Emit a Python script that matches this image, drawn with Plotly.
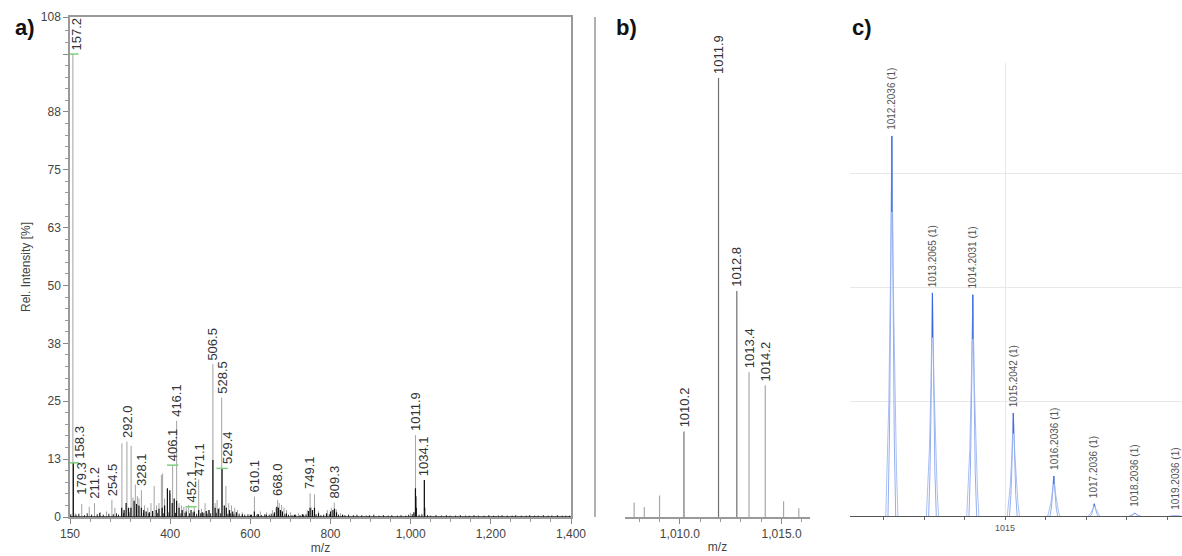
import plotly.graph_objects as go

W, H = 1182, 556

# ---------------- Panel a data ----------------
a_grey_mz = [157.2, 163, 179.3, 198, 211.2, 226, 241, 254.5, 262, 279.5, 292.0, 302.5, 307, 313, 318, 322,
             328.1, 336, 344, 352, 360, 366, 372, 378, 381, 386, 400, 406.1, 416.1, 422, 428, 434, 440, 446,
             460, 471.1, 478, 487, 495, 506.5, 512, 517, 523, 528.5, 539, 546, 553, 561, 568, 580, 610.1,
             625, 640, 655, 664, 668.0, 672, 678, 684, 690, 700, 720, 742, 749.1, 752, 760, 770, 792, 802,
             809.3, 815, 825, 1000, 1011.9, 1034.1]
a_grey_h = [100, 0.8, 2.8, 2.2, 3.0, 1.0, 1.2, 3.7, 2.0, 15.9, 16.3, 15.4, 4.2, 7.0, 4.5, 4.0,
            5.8, 2.5, 2.0, 3.0, 6.7, 2.5, 3.0, 9.1, 9.4, 4.0, 5.0, 11.2, 20.8, 3.0, 2.5, 2.2, 2.0, 2.6,
            2.0, 8.1, 1.8, 3.0, 1.5, 33.0, 3.0, 3.7, 2.0, 25.8, 6.7, 3.0, 2.5, 2.0, 1.5, 1.0, 4.4,
            1.2, 1.0, 1.5, 2.0, 3.7, 3.0, 2.6, 2.0, 1.5, 1.0, 0.8, 1.5, 5.1, 2.0, 4.9, 1.2, 1.5, 2.0,
            3.1, 1.6, 0.8, 0.9, 17.7, 8.0]

a_black_mz = [158.3, 279, 285, 290, 296, 302, 310, 316, 322, 328, 334, 340, 348, 356, 365, 372, 380, 386,
              393, 399, 405, 410, 416, 422, 430, 440, 452, 460, 471, 480, 490, 497, 506.5, 512, 520, 529.4,
              535, 540, 548, 556, 565, 580, 600, 610, 620, 640, 660, 666, 670, 675, 680, 690, 710, 730,
              745, 749, 755, 760, 770, 790, 800, 806, 810, 815, 830, 1008, 1011.9, 1013, 1014, 1034.1, 1035]
a_black_h = [11.7, 2.0, 1.5, 3.0, 2.0, 2.0, 3.5, 2.8, 2.5, 2.0, 1.5, 1.2, 1.0, 1.3, 1.5, 1.8, 2.0, 2.5,
             6.2, 5.8, 3.0, 4.0, 3.5, 2.0, 1.5, 1.2, 1.5, 1.2, 1.5, 1.0, 1.3, 1.5, 12.3, 2.0, 1.8, 10.5,
             2.5, 2.0, 1.5, 1.2, 1.0, 0.6, 0.5, 1.2, 0.6, 0.5, 1.0, 2.2, 2.0, 1.5, 1.2, 0.8, 0.5, 0.6,
             1.3, 2.0, 1.5, 2.0, 0.8, 0.8, 1.2, 1.5, 1.8, 1.0, 0.5, 1.0, 6.2, 4.5, 2.0, 8.0, 2.0]

a_noise_mz = [152, 165, 172, 186, 193, 204, 218, 224, 233, 247, 258, 266, 271, 284, 297, 333, 347, 356, 369,
              384, 397, 413, 427, 437, 448, 457, 466, 476, 484, 492, 501, 515, 526, 544, 551, 559, 572, 586,
              594, 603, 617, 628, 636, 647, 652, 659, 686, 695, 704, 713, 724, 733, 739, 764, 776, 783, 797,
              820, 836, 845, 857, 866, 878, 889, 897, 908, 921, 932, 944, 953, 967, 976, 988, 995, 1004,
              1021, 1028, 1042, 1050, 1063, 1077, 1089, 1098, 1112, 1124, 1137, 1146, 1158, 1169, 1183,
              1195, 1207, 1219, 1228, 1241, 1253, 1262, 1276, 1288, 1297, 1309, 1318, 1331, 1343, 1352,
              1366, 1378, 1387, 1396]
a_noise_h = [0.6, 0.5, 0.7, 0.4, 0.8, 0.5, 0.6, 0.9, 0.5, 0.7, 0.6, 0.8, 0.5, 0.9, 1.0, 0.9, 0.8, 0.7, 0.9,
             0.8, 1.0, 0.9, 0.8, 0.9, 0.8, 1.0, 0.7, 0.8, 0.9, 0.7, 0.8, 0.9, 0.8, 0.7, 0.8, 0.6, 0.7, 0.5,
             0.6, 0.5, 0.6, 0.4, 0.6, 0.5, 0.7, 0.6, 0.6, 0.5, 0.4, 0.5, 0.4, 0.5, 0.6, 0.6, 0.4, 0.5, 0.6,
             0.5, 0.4, 0.5, 0.4, 0.5, 0.4, 0.3, 0.4, 0.5, 0.3, 0.4, 0.3, 0.4, 0.3, 0.4, 0.3, 0.5, 0.6,
             0.5, 0.6, 0.4, 0.3, 0.4, 0.3, 0.4, 0.3, 0.3, 0.4, 0.3, 0.3, 0.4, 0.3, 0.3,
             0.4, 0.3, 0.3, 0.4, 0.3, 0.3, 0.4, 0.3, 0.3, 0.4, 0.3, 0.3, 0.4, 0.3, 0.3,
             0.4, 0.3, 0.3, 0.3]

a_label_text = ["157.2", "158.3", "179.3", "211.2", "254.5", "292.0", "328.1", "406.1", "416.1", "452.1",
                "471.1", "506.5", "528.5", "529.4", "610.1", "668.0", "749.1", "809.3", "1011.9", "1034.1"]
a_label_mz = [157.2, 158.3, 179.3, 211.2, 254.5, 292.0, 328.1, 406.1, 416.1, 452.1,
              471.1, 506.5, 528.5, 529.4, 610.1, 668.0, 749.1, 809.3, 1011.9, 1034.1]
a_label_h = [100, 11.7, 4.0, 3.0, 3.7, 16.3, 5.8, 11.2, 20.8, 2.2,
             8.1, 33.0, 25.8, 10.5, 4.4, 3.7, 5.1, 3.1, 17.7, 8.0]
a_label_shift = [4, 6, 0, 0, 0, 0, 0, 0, 0, 0, 0, 0, 0, 6, 0, 0, 0, 0, 0, 0]

a_centroid_mz = [157.2, 158.3, 406.1, 452.1, 529.4]
a_centroid_h = [100, 11.7, 11.2, 2.2, 10.5]

a_xtick_vals = [150, 400, 600, 800, 1000, 1200, 1400]
a_xtick_text = ["150", "400", "600", "800", "1,000", "1,200", "1,400"]
a_xminor = [200, 250, 300, 350, 450, 500, 550, 650, 700, 750, 850, 900, 950, 1050, 1100, 1150,
            1250, 1300, 1350]
a_ytick_vals = [0, 12.5, 25, 37.5, 50, 62.5, 75, 87.5, 100, 108]
a_ytick_text = ["0", "13", "25", "38", "50", "63", "75", "88", "", "108"]
a_yminor = [2.5, 5, 7.5, 10, 15, 17.5, 20, 22.5, 27.5, 30, 32.5, 35, 40, 42.5, 45, 47.5, 52.5, 55, 57.5,
            60, 65, 67.5, 70, 72.5, 77.5, 80, 82.5, 85, 90, 92.5, 95, 97.5, 102.5, 105]

# ---------------- Panel b data ----------------
b_main_mz = [1010.2, 1011.9, 1012.8]
b_main_h = [19.5, 100, 51.5]
b_light_mz = [1007.75, 1008.25, 1009.0, 1013.4, 1014.2, 1015.1, 1015.85]
b_light_h = [3.3, 2.3, 4.9, 33.0, 30.0, 3.6, 2.0]
b_label_text = ["1010.2", "1011.9", "1012.8", "1013.4", "1014.2"]
b_label_mz = [1010.2, 1011.9, 1012.8, 1013.4, 1014.2]
b_label_h = [19.5, 100, 51.5, 33.0, 30.0]
b_xtick_vals = [1010, 1015]
b_xtick_text = ["1,010.0", "1,015.0"]
b_xminor = [1008, 1009, 1011, 1012, 1013, 1014, 1016]

# ---------------- Panel c data ----------------
c_centers = [1012.2036, 1013.2065, 1014.2031, 1015.2042, 1016.2036, 1017.2036, 1018.2036, 1019.2036]
c_heights = [100, 58.7, 58.2, 27.1, 10.5, 3.2, 0.8, 0.15]
c_labels = ["1012.2036 (1)", "1013.2065 (1)", "1014.2031 (1)", "1015.2042 (1)",
            "1016.2036 (1)", "1017.2036 (1)", "1018.2036 (1)", "1019.2036 (1)"]
# peak profiles (offset in m/z, fraction of peak height)
c_outer_off = [-0.15, -0.115, -0.075, -0.037, 0, 0.037, 0.075, 0.115, 0.15]
c_outer_rel = [0, 0.12, 0.3, 0.6, 1, 0.6, 0.3, 0.12, 0]
c_inner_off = [-0.095, -0.06, -0.03, -0.012, 0, 0.012, 0.03, 0.06, 0.095]
c_inner_rel = [0, 0.2, 0.55, 0.85, 1, 0.85, 0.55, 0.2, 0]
c_xtick_vals = [1015]
c_xtick_text = ["1015"]
c_xminor = [1012, 1013, 1014, 1016, 1017, 1018, 1019]


def sticks(xs, hs):
    X, Y = [], []
    for x, h in zip(xs, hs):
        X += [x, x, None]
        Y += [0, h, None]
    return X, Y


def profiles(centers, heights, offs, rels):
    X, Y = [], []
    for c, h in zip(centers, heights):
        for o, r in zip(offs, rels):
            X.append(c + o)
            Y.append(h * r)
        X.append(None)
        Y.append(None)
    return X, Y


FONT = "Liberation Sans, Arial, sans-serif"
fig = go.Figure()

# panel a
x, y = sticks(a_grey_mz, a_grey_h)
fig.add_trace(go.Scatter(x=x, y=y, mode="lines", line=dict(color="#a3a3a3", width=1),
                         xaxis="x", yaxis="y", hoverinfo="skip"))
x, y = sticks(a_noise_mz, a_noise_h)
fig.add_trace(go.Scatter(x=x, y=y, mode="lines", line=dict(color="#222222", width=1),
                         xaxis="x", yaxis="y", hoverinfo="skip"))
x, y = sticks(a_black_mz, a_black_h)
fig.add_trace(go.Scatter(x=x, y=y, mode="lines", line=dict(color="#111111", width=1.2),
                         xaxis="x", yaxis="y", hoverinfo="skip"))
fig.add_trace(go.Scatter(x=a_centroid_mz, y=a_centroid_h, mode="markers",
                         marker=dict(symbol="line-ew", size=8, line=dict(color="#7ad07a", width=1.5)),
                         xaxis="x", yaxis="y", hoverinfo="skip"))

# panel b
x, y = sticks(b_light_mz, b_light_h)
fig.add_trace(go.Scatter(x=x, y=y, mode="lines", line=dict(color="#a8a8a8", width=1.2),
                         xaxis="x2", yaxis="y2", hoverinfo="skip"))
x, y = sticks(b_main_mz, b_main_h)
fig.add_trace(go.Scatter(x=x, y=y, mode="lines", line=dict(color="#707070", width=1.2),
                         xaxis="x2", yaxis="y2", hoverinfo="skip"))

# panel c
x, y = profiles(c_centers, c_heights, c_outer_off, c_outer_rel)
fig.add_trace(go.Scatter(x=x, y=y, mode="lines", line=dict(color="#aac0f3", width=1),
                         xaxis="x3", yaxis="y3", hoverinfo="skip"))
x, y = profiles(c_centers, c_heights, c_inner_off, c_inner_rel)
fig.add_trace(go.Scatter(x=x, y=y, mode="lines", line=dict(color="#94aef0", width=1),
                         xaxis="x3", yaxis="y3", hoverinfo="skip"))
cx, cy = [], []
for c, h in zip(c_centers, c_heights):
    cx += [c, c, None]
    cy += [h * 0.8, h, None]
fig.add_trace(go.Scatter(x=cx, y=cy, mode="lines", line=dict(color="#3a66d8", width=1.1),
                         xaxis="x3", yaxis="y3", hoverinfo="skip"))

annotations = []
for t, m, h, s in zip(a_label_text, a_label_mz, a_label_h, a_label_shift):
    annotations.append(dict(x=m, y=h, xref="x", yref="y", text=t, textangle=-90, showarrow=False,
                            xanchor="center", yanchor="bottom", yshift=2, xshift=s,
                            font=dict(family=FONT, size=13, color="#333333")))
for t, m, h in zip(b_label_text, b_label_mz, b_label_h):
    annotations.append(dict(x=m, y=h, xref="x2", yref="y2", text=t, textangle=-90, showarrow=False,
                            xanchor="center", yanchor="bottom", yshift=2,
                            font=dict(family=FONT, size=13, color="#333333")))
for t, m, h in zip(c_labels, c_centers, c_heights):
    annotations.append(dict(x=m, y=h, xref="x3", yref="y3", text=t, textangle=-90, showarrow=False,
                            xanchor="center", yanchor="bottom", yshift=4,
                            font=dict(family=FONT, size=10, color="#555555")))
for t, px, py in [("a)", 25, 27), ("b)", 626, 27), ("c)", 862, 27)]:
    annotations.append(dict(x=px / W, y=1 - py / H, xref="paper", yref="paper", text="<b>%s</b>" % t,
                            showarrow=False, xanchor="center", yanchor="middle",
                            font=dict(family=FONT, size=22, color="#111111")))

tickfont = dict(family=FONT, size=12, color="#444444")

fig.update_layout(
    width=W, height=H, margin=dict(l=0, r=0, t=0, b=0, autoexpand=False),
    paper_bgcolor="white", plot_bgcolor="white", showlegend=False,
    annotations=annotations,
    shapes=[dict(type="line", xref="paper", yref="paper", x0=595 / W, x1=595 / W,
                 y0=1 - 517 / H, y1=1 - 17 / H, line=dict(color="#b0b0b0", width=2)),
            dict(type="line", xref="x domain", yref="y", x0=0, x1=1, y0=0, y1=0,
                 line=dict(color="#222222", width=1.5))],
    xaxis=dict(domain=[70 / W, 571 / W], range=[150, 1400], anchor="y", automargin=False,
               tickmode="array", tickvals=a_xtick_vals, ticktext=a_xtick_text,
               ticks="outside", ticklen=5, tickcolor="#888", tickfont=tickfont,
               minor=dict(tickmode="array", tickvals=a_xminor, ticks="outside", ticklen=3, tickcolor="#999"),
               showline=True, linecolor="#9a9a9a", linewidth=1.5, mirror=True,
               showgrid=False, zeroline=False,
               title=dict(text="m/z", font=dict(family=FONT, size=12, color="#444"), standoff=2)),
    yaxis=dict(domain=[1 - 517 / H, 1 - 17 / H], range=[0, 108], anchor="x", automargin=False,
               tickmode="array", tickvals=a_ytick_vals, ticktext=a_ytick_text,
               ticks="outside", ticklen=5, tickcolor="#888", tickfont=tickfont,
               minor=dict(tickmode="array", tickvals=a_yminor, ticks="outside", ticklen=3, tickcolor="#999"),
               showline=True, linecolor="#9a9a9a", linewidth=1.5, mirror=True,
               showgrid=False, zeroline=False,
               title=dict(text="Rel. Intensity [%]", font=dict(family=FONT, size=12, color="#444"),
                          standoff=8)),
    xaxis2=dict(domain=[625 / W, 810 / W], range=[1007.3, 1016.4], anchor="y2", automargin=False,
                tickmode="array", tickvals=b_xtick_vals, ticktext=b_xtick_text,
                ticks="outside", ticklen=5, tickcolor="#888", tickfont=tickfont,
                minor=dict(tickmode="array", tickvals=b_xminor, ticks="outside", ticklen=3, tickcolor="#999"),
                showline=True, linecolor="#9a9a9a", linewidth=1.5,
                showgrid=False, zeroline=False,
                title=dict(text="m/z", font=dict(family=FONT, size=12, color="#444"), standoff=2)),
    yaxis2=dict(domain=[1 - 517 / H, 1 - 17 / H], range=[0, 113.9], anchor="x2", visible=False,
                automargin=False),
    xaxis3=dict(domain=[850 / W, 1.0], range=[1011.17, 1019.37], anchor="y3", automargin=False,
                tickmode="array", tickvals=c_xtick_vals, ticktext=c_xtick_text,
                ticks="outside", ticklen=3, tickcolor="#666",
                tickfont=dict(family=FONT, size=9, color="#555"),
                minor=dict(tickmode="array", tickvals=c_xminor, ticks="outside", ticklen=3,
                           tickcolor="#666", showgrid=False),
                showline=True, linecolor="#555", linewidth=1,
                showgrid=True, gridcolor="#e8e8e8", gridwidth=1, zeroline=False),
    yaxis3=dict(domain=[1 - 516 / H, 1 - 63 / H], range=[0, 119.2], anchor="x3", automargin=False,
                tickmode="linear", tick0=0, dtick=30, showticklabels=False, ticks="",
                showgrid=True, gridcolor="#e8e8e8", gridwidth=1, zeroline=False, showline=False),
)

fig.write_html("out.html", config={"displayModeBar": False},
               post_script="document.body.style.margin='0px';document.body.style.padding='0px';"
                           "document.body.style.overflow='hidden';")
